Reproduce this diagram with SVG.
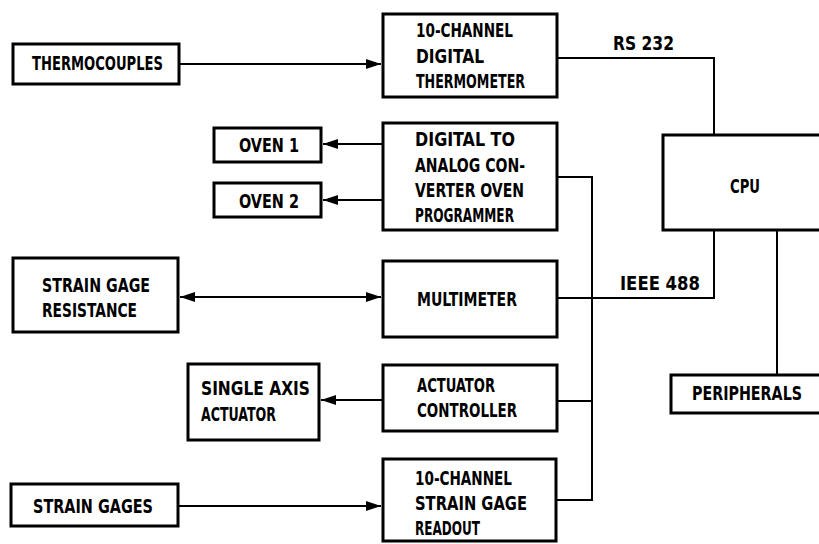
<svg xmlns="http://www.w3.org/2000/svg" width="819" height="544" viewBox="0 0 819 544">
<defs>
<style>
.box{fill:#fff;stroke:#000;stroke-width:3}
.ln{fill:none;stroke:#000;stroke-width:2}
text{font-family:"DejaVu Sans Condensed","DejaVu Sans","Liberation Sans",sans-serif;font-stretch:condensed;font-weight:bold;font-size:20px;fill:#000}
</style>
<marker id="ah" markerUnits="userSpaceOnUse" markerWidth="16" markerHeight="12" refX="15" refY="5" orient="auto-start-reverse">
<path d="M0,0 L15,5 L0,10 z" fill="#000"/>
</marker>
</defs>
<rect width="819" height="544" fill="#fff"/>
<g id="connectors">
<path class="ln" d="M179,64 H381" marker-end="url(#ah)"/>
<path class="ln" d="M383,144 H323" marker-end="url(#ah)"/>
<path class="ln" d="M383,200 H323" marker-end="url(#ah)"/>
<path class="ln" d="M180,297 H381" marker-start="url(#ah)" marker-end="url(#ah)"/>
<path class="ln" d="M383,400 H321" marker-end="url(#ah)"/>
<path class="ln" d="M179,506 H381" marker-end="url(#ah)"/>
<path class="ln" d="M557,58 H714 V135"/>
<path class="ln" d="M557,298 H714 V230"/>
<path class="ln" d="M557,177 H592 V500 H557"/>
<path class="ln" d="M557,401 H592"/>
<path class="ln" d="M777,230 V375"/>
<text x="613" y="50" textLength="61" lengthAdjust="spacingAndGlyphs">RS 232</text>
<text x="620" y="290" textLength="80" lengthAdjust="spacingAndGlyphs">IEEE 488</text>
</g>
<g id="thermocouples">
<rect class="box" x="13" y="44" width="166" height="40"/>
<text x="32" y="70" textLength="131" lengthAdjust="spacingAndGlyphs">THERMOCOUPLES</text>
</g>
<g id="thermometer">
<rect class="box" x="383" y="14" width="174" height="83"/>
<text x="416" y="37" textLength="97" lengthAdjust="spacingAndGlyphs">10-CHANNEL</text>
<text x="416" y="63" textLength="68" lengthAdjust="spacingAndGlyphs">DIGITAL</text>
<text x="416" y="88" textLength="109" lengthAdjust="spacingAndGlyphs">THERMOMETER</text>
</g>
<g id="oven1">
<rect class="box" x="214" y="128" width="107" height="34"/>
<text x="239" y="152" textLength="60" lengthAdjust="spacingAndGlyphs">OVEN 1</text>
</g>
<g id="oven2">
<rect class="box" x="214" y="183" width="107" height="34"/>
<text x="239" y="208" textLength="60" lengthAdjust="spacingAndGlyphs">OVEN 2</text>
</g>
<g id="dac">
<rect class="box" x="383" y="123" width="174" height="107"/>
<text x="415" y="146" textLength="100" lengthAdjust="spacingAndGlyphs">DIGITAL TO</text>
<text x="415" y="172" textLength="110" lengthAdjust="spacingAndGlyphs">ANALOG CON-</text>
<text x="415" y="197" textLength="109" lengthAdjust="spacingAndGlyphs">VERTER OVEN</text>
<text x="415" y="222" textLength="99" lengthAdjust="spacingAndGlyphs">PROGRAMMER</text>
</g>
<g id="cpu">
<rect class="box" x="663" y="135" width="159" height="95"/>
<text x="730" y="193" textLength="30" lengthAdjust="spacingAndGlyphs">CPU</text>
</g>
<g id="sg-resistance">
<rect class="box" x="13" y="258" width="165" height="74"/>
<text x="42" y="292" textLength="108" lengthAdjust="spacingAndGlyphs">STRAIN GAGE</text>
<text x="42" y="317" textLength="95" lengthAdjust="spacingAndGlyphs">RESISTANCE</text>
</g>
<g id="multimeter">
<rect class="box" x="383" y="261" width="174" height="76"/>
<text x="417" y="306" textLength="100" lengthAdjust="spacingAndGlyphs">MULTIMETER</text>
</g>
<g id="single-axis-actuator">
<rect class="box" x="188" y="364" width="131" height="76"/>
<text x="201" y="395" textLength="109" lengthAdjust="spacingAndGlyphs">SINGLE AXIS</text>
<text x="201" y="421" textLength="75" lengthAdjust="spacingAndGlyphs">ACTUATOR</text>
</g>
<g id="actuator-controller">
<rect class="box" x="383" y="365" width="174" height="66"/>
<text x="417" y="392" textLength="78" lengthAdjust="spacingAndGlyphs">ACTUATOR</text>
<text x="417" y="417" textLength="100" lengthAdjust="spacingAndGlyphs">CONTROLLER</text>
</g>
<g id="peripherals">
<rect class="box" x="671" y="375" width="151" height="38"/>
<text x="692" y="400" textLength="110" lengthAdjust="spacingAndGlyphs">PERIPHERALS</text>
</g>
<g id="strain-gages">
<rect class="box" x="11" y="484" width="167" height="42"/>
<text x="33" y="513" textLength="120" lengthAdjust="spacingAndGlyphs">STRAIN GAGES</text>
</g>
<g id="readout">
<rect class="box" x="383" y="459" width="173" height="82"/>
<text x="415" y="485" textLength="97" lengthAdjust="spacingAndGlyphs">10-CHANNEL</text>
<text x="415" y="510" textLength="112" lengthAdjust="spacingAndGlyphs">STRAIN GAGE</text>
<text x="415" y="535" textLength="65" lengthAdjust="spacingAndGlyphs">READOUT</text>
</g>
</svg>
